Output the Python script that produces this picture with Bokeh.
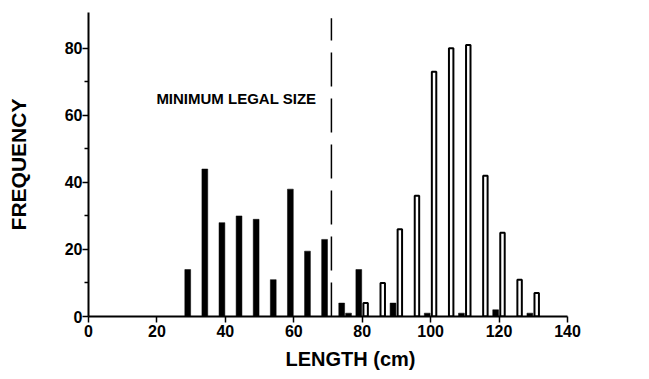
from bokeh.plotting import figure
from bokeh.models import Range1d, FixedTicker, Label, Title
from bokeh.embed import file_html
from bokeh.resources import INLINE

# Sublegal (black) length classes and frequencies
black_len = [29, 34, 39, 44, 49, 54, 59, 64, 69, 74, 76, 79, 89, 99, 109, 119, 129]
black_freq = [14, 44, 28, 30, 29, 11, 38, 19.5, 23, 4, 1, 14, 4, 1, 1, 2, 1]
# Legal (white) length classes and frequencies
white_len = [81, 86, 91, 96, 101, 106, 111, 116, 121, 126, 131]
white_freq = [4, 10, 26, 36, 73, 80, 81, 42, 25, 11, 7]

x_ticks = [0, 20, 40, 60, 80, 100, 120, 140]
y_ticks = [0, 20, 40, 60, 80]
y_minor = [10, 30, 50, 70]
legal_size = 71
legal_text = "MINIMUM LEGAL SIZE"
x_title = "LENGTH (cm)"
y_title = "FREQUENCY"

FONT = "Liberation Sans"

p = figure(width=649, height=379, output_backend="svg", toolbar_location=None,
           x_range=Range1d(0, 140), y_range=Range1d(0, 90.7),
           min_border_left=88, min_border_right=82, min_border_top=12, min_border_bottom=63)
p.outline_line_color = None
p.xgrid.visible = False
p.ygrid.visible = False
p.background_fill_color = "white"

p.vbar(x=black_len, top=black_freq, bottom=0, width=1.7, fill_color="black", line_color="black", line_width=0.5)
p.vbar(x=white_len, top=white_freq, bottom=0, width=1.3, fill_color="white", line_color="black", line_width=2)

p.segment(x0=[legal_size], y0=[0], x1=[legal_size], y1=[89], line_color="black",
          line_width=1.5, line_dash="34 12")

lab = Label(x=66.6, y=65, text=legal_text, text_align="right", text_baseline="middle",
            text_font=FONT, text_font_style="bold", text_font_size="15px", text_color="black")
p.add_layout(lab)

for ax in (p.xaxis[0], p.yaxis[0]):
    ax.axis_line_width = 2
    ax.axis_line_color = "black"
    ax.major_tick_line_color = "black"
    ax.major_tick_line_width = 1.5
    ax.major_tick_in = 0
    ax.major_tick_out = 6
    ax.minor_tick_in = 0
    ax.minor_tick_out = 4
    ax.minor_tick_line_width = 1.5
    ax.major_label_text_font = FONT
    ax.major_label_text_font_style = "bold"
    ax.major_label_text_font_size = "16px"
    ax.major_label_text_color = "black"
    ax.axis_label_text_font = FONT
    ax.axis_label_text_font_style = "bold"
    ax.axis_label_text_color = "black"

p.xaxis[0].ticker = FixedTicker(ticks=x_ticks)
p.xaxis[0].minor_tick_line_color = None
p.xaxis[0].major_label_standoff = 2

xtitle = Title(text=x_title, align="left", offset=197, text_font=FONT, text_font_style="bold",
               text_font_size="20px", text_color="black", standoff=12)
p.add_layout(xtitle, "below")

p.yaxis[0].ticker = FixedTicker(ticks=y_ticks, minor_ticks=y_minor)
p.yaxis[0].axis_label = y_title
p.yaxis[0].axis_label_text_font_size = "21px"
p.yaxis[0].major_label_standoff = 0
p.yaxis[0].axis_label_standoff = 32

open("out.html", "w").write(file_html(p, INLINE))
